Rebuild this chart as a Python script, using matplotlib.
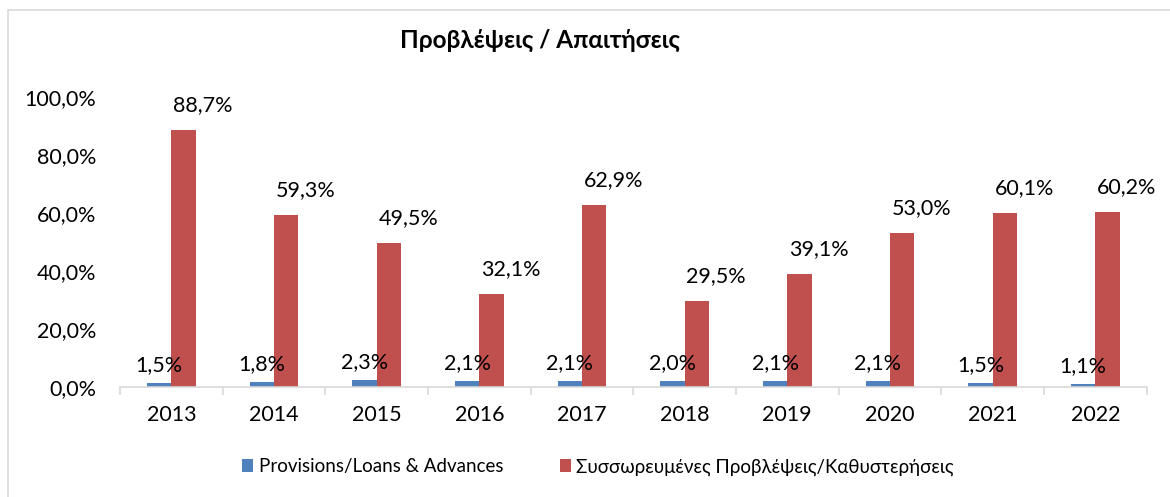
import numpy as np
import matplotlib.pyplot as plt
from matplotlib.patches import Rectangle

plt.rcParams['font.family'] = ['Lato', 'DejaVu Sans']

# Data
years = ['2013', '2014', '2015', '2016', '2017', '2018', '2019', '2020', '2021', '2022']
provisions_loans = [1.5, 1.8, 2.3, 2.1, 2.1, 2.0, 2.1, 2.1, 1.5, 1.1]
accum_provisions = [88.7, 59.3, 49.5, 32.1, 62.9, 29.5, 39.1, 53.0, 60.1, 60.2]
series_names = ['Provisions/Loans & Advances', 'Συσσωρευμένες Προβλέψεις/Καθυστερήσεις']
yticks = [0, 20, 40, 60, 80, 100]

blue = '#4F81BD'
red = '#C0504D'

def pct(v):
    return f'{v:.1f}%'.replace('.', ',')

fig = plt.figure(figsize=(11.7, 4.97), dpi=100)
fig.patches.append(Rectangle((8 / 1170, -0.1), 1.2, 1 - 10 / 497 + 0.1,
                             transform=fig.transFigure, fill=False,
                             edgecolor='#D9D9D9', linewidth=1.2))

ax = fig.add_axes([0.1026, 0.2213, 0.8774, 0.5835])
x = np.arange(len(years))
w = 0.238
b1 = ax.bar(x - w / 2, provisions_loans, w, color=blue, label=series_names[0])
b2 = ax.bar(x + w / 2, accum_provisions, w, color=red, label=series_names[1])

for xi, v in zip(x, provisions_loans):
    ax.annotate(pct(v), (xi - w / 2, v), xytext=(0, 13), textcoords='offset points',
                ha='center', va='center', fontsize=15.5)
for xi, v in zip(x, accum_provisions):
    ax.annotate(pct(v), (xi + w / 2, v), xytext=(14, 18), textcoords='offset points',
                ha='center', va='center', fontsize=15.5)

ax.set_xlim(-0.5, len(years) - 0.5)
ax.set_ylim(0, 100)
ax.set_yticks(yticks)
ax.set_yticklabels([pct(v) for v in yticks], fontsize=15.5)
ax.set_xticks(x)
ax.set_xticklabels(years, fontsize=15.5)
ax.set_xticks(np.arange(len(years) + 1) - 0.5, minor=True)
ax.tick_params(axis='x', which='major', length=0, pad=13)
ax.tick_params(axis='x', which='minor', length=6, color='#D9D9D9', width=1.2)
ax.tick_params(axis='y', length=0, pad=17)
for s in ['top', 'right', 'left']:
    ax.spines[s].set_visible(False)
ax.spines['bottom'].set_color('#D9D9D9')
ax.spines['bottom'].set_linewidth(1.2)

fig.text(540 / 1170, 1 - 40 / 497, 'Προβλέψεις / Απαιτήσεις', ha='center', va='center',
         fontsize=17.5, fontweight='bold')

fig.legend(handles=[b1, b2], loc='center', bbox_to_anchor=(598 / 1170, 1 - 467 / 497),
           ncol=2, frameon=False, fontsize=13.5, handlelength=0.6, handleheight=0.7,
           handletextpad=0.3, columnspacing=3.0)

fig.savefig('out.png', dpi=100)
